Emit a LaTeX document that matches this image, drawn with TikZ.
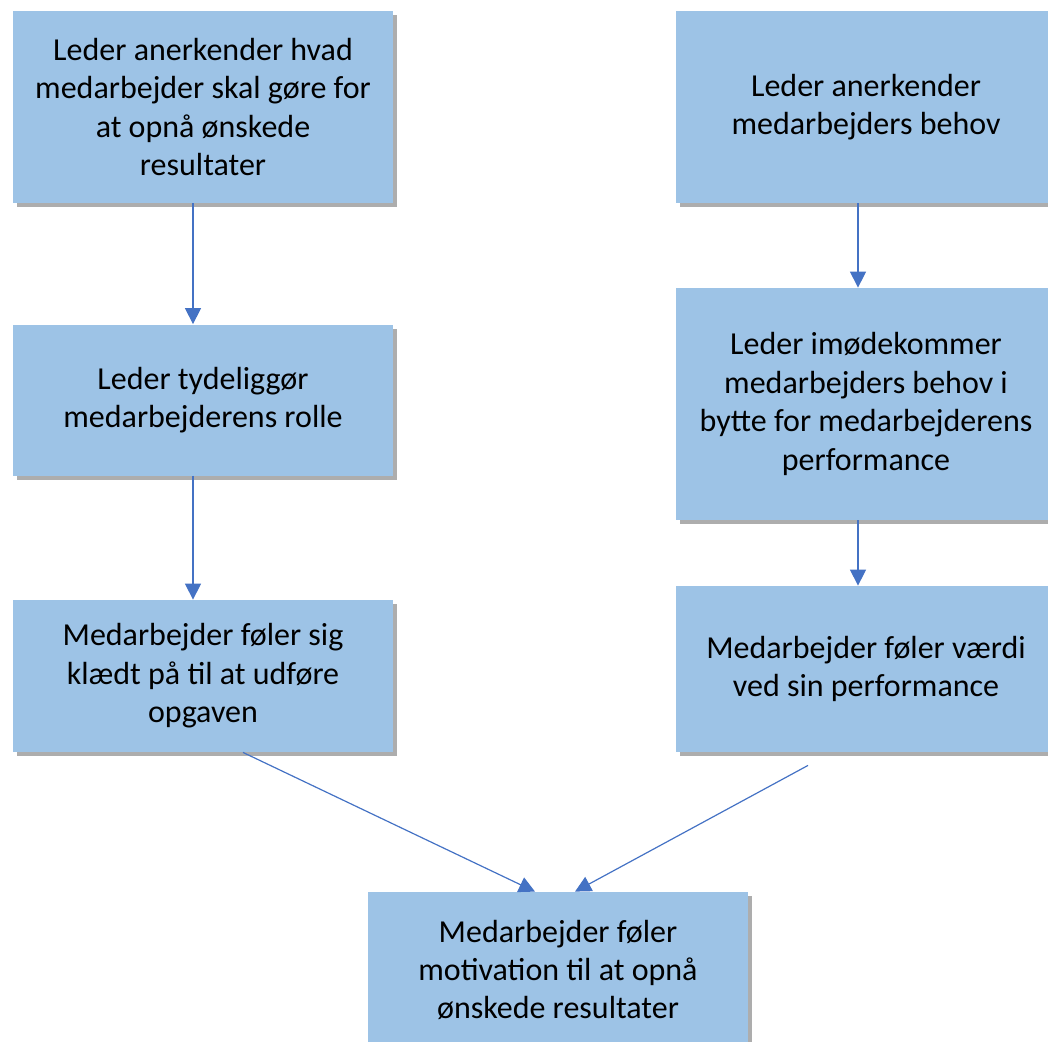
\documentclass[tikz,border=0pt]{standalone}
\usepackage{fontspec}
\setmainfont{Carlito}
\usetikzlibrary{arrows.meta,positioning,calc,shadows}
\definecolor{boxblue}{HTML}{9DC3E6}
\definecolor{linkblue}{HTML}{4472C4}
\tikzset{stepbox/.style={rectangle,fill=boxblue,align=center,inner sep=0pt,
   font=\fontsize{16}{19.2}\selectfont,
   drop shadow={shadow xshift=1.8pt,shadow yshift=-2.2pt,opacity=.4,fill=black!80}},
  link/.style={draw=linkblue,line width=.6pt,-{Triangle[width=8pt,length=8pt]}}}
\begin{document}
\begin{tikzpicture}[x=.5pt,y=-.5pt]
\useasboundingbox (0,0) rectangle (1048,1041);
\clip (0,0) rectangle (1048,1041);
% left column
\node[stepbox,minimum width=190pt,minimum height=96pt] (l1) at (203,107)
 {Leder anerkender hvad\\medarbejder skal gøre for\\at opnå ønskede\\resultater};
\node[stepbox,minimum width=190pt,minimum height=75.5pt] (l2) at (203,400)
 {Leder tydeliggør\\medarbejderens rolle};
\node[stepbox,minimum width=190pt,minimum height=76pt] (l3) at (203,676)
 {Medarbejder føler sig\\klædt på til at udføre\\opgaven};
% right column
\node[stepbox,minimum width=190pt,minimum height=96pt] (r1) at (866,107)
 {Leder anerkender\\medarbejders behov};
\node[stepbox,minimum width=190pt,minimum height=116pt] (r2) at (866,404)
 {Leder imødekommer\\medarbejders behov i\\bytte for medarbejderens\\performance};
\node[stepbox,minimum width=190pt,minimum height=83pt] (r3) at (866,669)
 {Medarbejder føler værdi\\ved sin performance};
% result
\node[stepbox,minimum width=190pt,minimum height=78pt] (res) at (558,970)
 {Medarbejder føler\\motivation til at opnå\\ønskede resultater};
\draw[link] ([xshift=-5pt]l1.south) -- ([xshift=-5pt]l2.north);
\draw[link] ([xshift=-5pt]l2.south) -- ([xshift=-5pt]l3.north);
\draw[link] ([xshift=-4pt]r1.south) -- ([xshift=-4pt]r2.north);
\draw[link] ([xshift=-4pt]r2.south) -- ([xshift=-4pt]r3.north);
\draw[link] ([xshift=20pt]l3.south) -- ([xshift=-11.5pt]res.north);
\draw[link] ([xshift=-29pt,yshift=-6.5pt]r3.south) -- ([xshift=8.5pt]res.north);
\end{tikzpicture}
\end{document}
